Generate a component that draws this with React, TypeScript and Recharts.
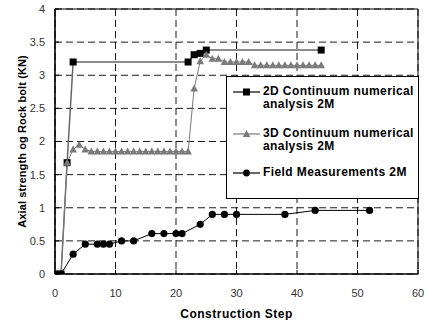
import React from 'react';
import { LineChart, Line, XAxis, YAxis, CartesianGrid, Legend, ReferenceLine, Label } from 'recharts';

const steps2D = [0, 1, 2, 3, 22, 23, 24, 25, 44];
const values2D = [0, 0, 1.68, 3.2, 3.2, 3.31, 3.33, 3.38, 3.38];

const steps3D = [0, 1, 2, 3, 4, 5, 6, 7, 8, 9, 10, 11, 12, 13, 14, 15, 16, 17, 18, 19, 20, 21, 22, 23, 24, 25, 26, 27, 28, 29, 30, 31, 32, 33, 34, 35, 36, 37, 38, 39, 40, 41, 42, 43, 44];
const values3D = [0, 0, 1.68, 1.88, 1.95, 1.88, 1.85, 1.85, 1.85, 1.85, 1.85, 1.85, 1.85, 1.85, 1.85, 1.85, 1.85, 1.85, 1.85, 1.85, 1.85, 1.85, 1.85, 2.8, 3.21, 3.31, 3.25, 3.25, 3.2, 3.2, 3.2, 3.2, 3.2, 3.15, 3.15, 3.15, 3.15, 3.15, 3.15, 3.15, 3.15, 3.15, 3.15, 3.15, 3.15];

const stepsField = [0, 1, 3, 5, 7, 8, 9, 11, 13, 16, 18, 20, 21, 24, 26, 28, 30, 38, 43, 52];
const valuesField = [0, 0, 0.3, 0.45, 0.45, 0.45, 0.45, 0.5, 0.5, 0.61, 0.61, 0.61, 0.61, 0.75, 0.9, 0.9, 0.9, 0.9, 0.96, 0.96];

const xTicks = [0, 10, 20, 30, 40, 50, 60];
const yTicks = [0, 0.5, 1, 1.5, 2, 2.5, 3, 3.5, 4];

const seriesNames = ['2D Continuum numerical analysis 2M', '3D Continuum numerical analysis 2M', 'Field Measurements 2M'];

const toRows = (xs: number[], ys: number[]) => xs.map((x, i) => ({ x, y: ys[i] }));
const data2D = toRows(steps2D, values2D);
const data3D = toRows(steps3D, values3D);
const dataField = toRows(stepsField, valuesField);

const SquareDot = (p: any) => <rect x={p.cx - 3.5} y={p.cy - 3.5} width={7} height={7} fill="#000" />;
const TriDot = (p: any) => <polygon points={`${p.cx},${p.cy - 4} ${p.cx - 3.8},${p.cy + 3} ${p.cx + 3.8},${p.cy + 3}`} fill="#7a7a7a" />;
const CircleDot = (p: any) => <circle cx={p.cx} cy={p.cy} r={3.6} fill="#000" />;

const font = '"Liberation Sans", Arial, sans-serif';

const LegendBox = () => {
  const textStyle: React.CSSProperties = { fontFamily: font, fontWeight: 'bold', fontSize: 12, lineHeight: '12.5px', color: '#000', letterSpacing: 0.4 };
  const Icon = ({ kind }: { kind: number }) => (
    <svg width={28} height={10} style={{ display: 'block' }}>
      <line x1={0} y1={5} x2={27} y2={5} stroke={kind === 1 ? '#7a7a7a' : '#000'} strokeWidth={1.2} />
      {kind === 0 && <rect x={10} y={1.5} width={7} height={7} fill="#000" />}
      {kind === 1 && <polygon points="13.5,1 9.7,8 17.3,8" fill="#7a7a7a" />}
      {kind === 2 && <circle cx={13.5} cy={5} r={3.4} fill="#000" />}
    </svg>
  );
  const rows = [
    { kind: 0, lines: ['2D Continuum numerical', 'analysis 2M'], top: 8 },
    { kind: 1, lines: ['3D Continuum numerical', 'analysis 2M'], top: 50 },
    { kind: 2, lines: ['Field Measurements 2M'], top: 89 },
  ];
  return (
    <div style={{ position: 'relative', width: 193, height: 123, border: '1px solid #000', background: '#fff', boxSizing: 'border-box' }}>
      {rows.map((r, i) => (
        <div key={i} style={{ position: 'absolute', left: 6, top: r.top, display: 'flex', alignItems: 'flex-start' }}>
          <div style={{ marginTop: 2 }}><Icon kind={r.kind} /></div>
          <div style={{ ...textStyle, marginLeft: 2, whiteSpace: 'nowrap' }}>
            {r.lines.map((l, j) => <div key={j}>{l}</div>)}
          </div>
        </div>
      ))}
    </div>
  );
};

export default function App() {
  return (
    <div style={{ position: 'absolute', left: 0, top: 0, background: '#fff' }}>
      <LineChart width={429} height={320} margin={{ top: 9, right: 11, left: 0, bottom: 0 }}>
        <CartesianGrid stroke="#000" strokeDasharray="7 4" strokeWidth={0.9} />
        <XAxis
          type="number"
          dataKey="x"
          domain={[0, 60]}
          ticks={xTicks}
          height={46}
          axisLine={{ stroke: '#000', strokeWidth: 1.6 }}
          tickLine={{ stroke: '#000' }}
          tickSize={-4}
          tickMargin={19}
          tick={{ fill: '#333', fontSize: 11, fontFamily: font }}
          allowDataOverflow
        >
          <Label value="Construction Step" position="insideBottom" offset={2} style={{ fontFamily: font, fontWeight: 'bold', fontSize: 12, fill: '#000', letterSpacing: 0.5 }} />
        </XAxis>
        <YAxis
          type="number"
          domain={[0, 4]}
          ticks={yTicks}
          width={55}
          axisLine={{ stroke: '#000', strokeWidth: 1.6 }}
          tickLine={{ stroke: '#000' }}
          tickSize={-4}
          tickMargin={14}
          tick={{ fill: '#333', fontSize: 11, fontFamily: font }}
          allowDataOverflow
        >
          <Label value="Axial strength og Rock bolt (KN)" angle={-90} position="center" dx={-5} style={{ fontFamily: font, fontWeight: 'bold', fontSize: 11, fill: '#000', letterSpacing: 0.1, textAnchor: 'middle' }} />
        </YAxis>
        <ReferenceLine y={4} stroke="#000" strokeWidth={1} />
        <ReferenceLine x={60} stroke="#000" strokeWidth={1} />
        <Line data={data2D} dataKey="y" name={seriesNames[0]} stroke="#666" strokeWidth={1.5} dot={<SquareDot />} activeDot={false} isAnimationActive={false} />
        <Line data={data3D} dataKey="y" name={seriesNames[1]} stroke="#7a7a7a" strokeWidth={1} dot={<TriDot />} activeDot={false} isAnimationActive={false} />
        <Line data={dataField} dataKey="y" name={seriesNames[2]} stroke="#000" strokeWidth={1} dot={<CircleDot />} activeDot={false} isAnimationActive={false} />
        <Legend layout="vertical" align="center" verticalAlign="middle" content={<LegendBox />} wrapperStyle={{ position: 'absolute', left: 226, top: 76, width: 193, height: 123 }} />
      </LineChart>
    </div>
  );
}
